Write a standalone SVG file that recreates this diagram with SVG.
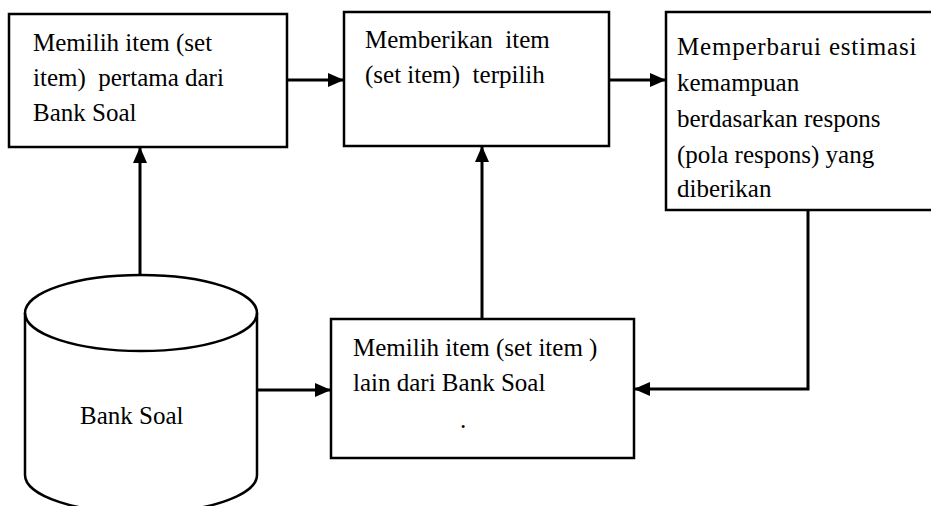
<svg xmlns="http://www.w3.org/2000/svg" width="931" height="506" viewBox="0 0 931 506">
<style>
.box{fill:#fff;stroke:#000;stroke-width:2.5}
.t{font-size:25px;fill:#000}
.c{fill:none;stroke:#000;stroke-width:3}
</style>
<defs>
<marker id="ah" markerWidth="16" markerHeight="14" refX="15" refY="7" orient="auto" markerUnits="userSpaceOnUse">
<path d="M0,0 L16,7 L0,14 Z" fill="#000"/>
</marker>
</defs>
<rect width="931" height="506" fill="#fff"/>
<g font-family="Liberation Serif, DejaVu Serif, Times New Roman, serif">
<g id="box1">
<rect class="box" x="9" y="14" width="278" height="133"/>
<text class="t" x="33" y="51">Memilih item (set</text>
<text class="t" x="33" y="86" xml:space="preserve">item)  pertama dari</text>
<text class="t" x="33" y="121">Bank Soal</text>
</g>
<g id="box2">
<rect class="box" x="344" y="12" width="265" height="134"/>
<text class="t" x="365" y="48" xml:space="preserve">Memberikan  item</text>
<text class="t" x="365" y="83" xml:space="preserve">(set item)  terpilih</text>
</g>
<g id="box3">
<rect class="box" x="666" y="12" width="270" height="198"/>
<text class="t" x="677" y="55" letter-spacing="0.8">Memperbarui estimasi</text>
<text class="t" x="677" y="91">kemampuan</text>
<text class="t" x="677" y="127">berdasarkan respons</text>
<text class="t" x="677" y="163">(pola respons) yang</text>
<text class="t" x="677" y="197">diberikan</text>
</g>
<g id="bank">
<path class="box" d="M25,313 A116,38 0 0 1 257,313 L257,475 A116,38 0 0 1 25,475 Z"/>
<path class="box" style="fill:none" d="M25,313 A116,38 0 0 0 257,313"/>
<text class="t" x="80" y="424">Bank Soal</text>
</g>
<g id="box4">
<rect class="box" x="331" y="319" width="303" height="139"/>
<text class="t" x="353" y="356">Memilih item (set item )</text>
<text class="t" x="353" y="391">lain dari Bank Soal</text>
<text class="t" x="460" y="428">.</text>
</g>
</g>
<g id="connectors">
<line class="c" x1="287" y1="80" x2="343" y2="80" marker-end="url(#ah)"/>
<line class="c" x1="609" y1="80" x2="665" y2="80" marker-end="url(#ah)"/>
<line class="c" x1="140" y1="275" x2="140" y2="148" marker-end="url(#ah)"/>
<line class="c" x1="482" y1="319" x2="482" y2="147" marker-end="url(#ah)"/>
<line class="c" x1="257" y1="390" x2="330" y2="390" marker-end="url(#ah)"/>
<polyline class="c" points="808,210 808,389 635,389" marker-end="url(#ah)"/>
</g>
</svg>
